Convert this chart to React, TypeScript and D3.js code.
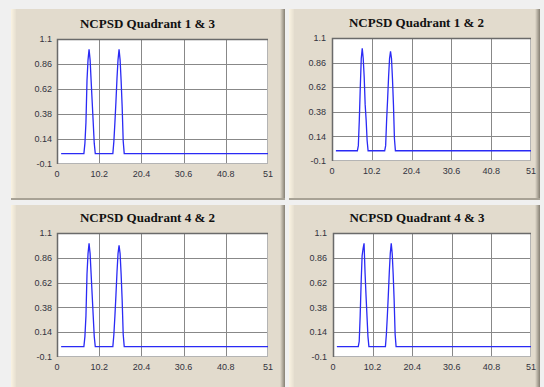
import { useEffect, useRef } from "react"
import * as d3 from "d3"

const titles = ["NCPSD Quadrant 1 & 3", "NCPSD Quadrant 1 & 2", "NCPSD Quadrant 4 & 2", "NCPSD Quadrant 4 & 3"]
const xTicks = [0, 10.2, 20.4, 30.6, 40.8, 51]
const yTicks = [-0.1, 0.14, 0.38, 0.62, 0.86, 1.1]

// frequency samples (baseline points only at the ends, peaks sampled finely)
const freq = [1, 6.5, 6.75, 7, 7.25, 7.5, 7.75, 8, 8.25, 8.5, 8.75, 9, 9.25, 13.5, 13.75, 14, 14.25, 14.5, 14.75, 15, 15.25, 15.5, 15.75, 16, 16.25, 51]
const q13 = [0, 0, 0.1, 0.3, 0.7, 0.9, 1.0, 0.9, 0.7, 0.5, 0.3, 0.1, 0, 0, 0.12, 0.3, 0.5, 0.72, 0.9, 1.0, 0.9, 0.7, 0.45, 0.12, 0, 0]
const q12 = [0, 0, 0.05, 0.3, 0.62, 0.9, 1.0, 0.9, 0.72, 0.45, 0.3, 0.1, 0, 0, 0.05, 0.3, 0.5, 0.72, 0.9, 0.97, 0.9, 0.7, 0.45, 0.12, 0, 0]
const q42 = [0, 0, 0.1, 0.3, 0.7, 0.9, 1.0, 0.9, 0.7, 0.5, 0.3, 0.1, 0, 0, 0.12, 0.3, 0.5, 0.72, 0.9, 0.98, 0.9, 0.7, 0.45, 0.12, 0, 0]
const q43 = [0, 0, 0.05, 0.3, 0.62, 0.88, 0.95, 1.0, 0.72, 0.5, 0.3, 0.1, 0, 0, 0.12, 0.3, 0.5, 0.72, 0.9, 1.0, 0.9, 0.7, 0.45, 0.12, 0, 0]

const panels = [
  { title: titles[0], values: q13, box: [11, 9, 285, 200], plot: [57, 39, 268, 164], gap: 5 },
  { title: titles[1], values: q12, box: [289, 9, 540, 200], plot: [332, 38, 531, 161], gap: 6 },
  { title: titles[2], values: q42, box: [11, 205, 285, 392], plot: [57, 233, 268, 357], gap: 5 },
  { title: titles[3], values: q43, box: [289, 205, 540, 392], plot: [333, 233, 531, 357], gap: 6 },
]

export default function App() {
  const svgRef = useRef<SVGSVGElement>(null)

  useEffect(() => {
    if (!svgRef.current) return
    const width = 544
    const height = 387
    const svg = d3.select(svgRef.current).attr("width", width).attr("height", height)
    svg.selectAll("*").remove()

    svg.append("rect").attr("width", width).attr("height", height).attr("fill", "#f0f0f0")

    const defs = svg.append("defs")
    const sh = defs.append("linearGradient").attr("id", "shadowR")
    sh.append("stop").attr("offset", "0%").attr("stop-color", "#e2dbcd")
    sh.append("stop").attr("offset", "100%").attr("stop-color", "#857f73")
    const hi = defs.append("linearGradient").attr("id", "hiL")
    hi.append("stop").attr("offset", "0%").attr("stop-color", "#faf3e2")
    hi.append("stop").attr("offset", "100%").attr("stop-color", "#e6dfd0")

    panels.forEach((p) => {
      const [bx0, by0, bx1, by1] = p.box
      const [px0, py0, px1, py1] = p.plot
      const g = svg.append("g")

      g.append("rect").attr("x", bx0).attr("y", by0).attr("width", bx1 - bx0).attr("height", by1 - by0).attr("fill", "#e2dbcd")
      g.append("rect").attr("x", bx0).attr("y", by0).attr("width", 5).attr("height", by1 - by0).attr("fill", "url(#hiL)")
      g.append("rect").attr("x", bx1 - 5).attr("y", by0).attr("width", 5).attr("height", by1 - by0).attr("fill", "url(#shadowR)")
      g.append("rect").attr("x", bx0).attr("y", by1 - 2).attr("width", bx1 - bx0).attr("height", 2).attr("fill", "#a8a295")

      g.append("text")
        .attr("x", (px0 + px1) / 2 - 15)
        .attr("y", py0 - 11)
        .attr("text-anchor", "middle")
        .attr("font-family", "Liberation Serif, Times New Roman, serif")
        .attr("font-weight", "bold")
        .attr("font-size", "13px")
        .attr("fill", "#111")
        .text(p.title)

      const x = d3.scaleLinear().domain([0, 51]).range([px0, px1])
      const y = d3.scaleLinear().domain([-0.1, 1.1]).range([py1, py0])

      g.append("rect").attr("x", px0).attr("y", py0).attr("width", px1 - px0).attr("height", py1 - py0).attr("fill", "#ffffff")

      g.selectAll(".gx")
        .data(xTicks.slice(1, -1))
        .enter()
        .append("line")
        .attr("x1", (d) => Math.round(x(d)) + 0.5)
        .attr("x2", (d) => Math.round(x(d)) + 0.5)
        .attr("y1", py0)
        .attr("y2", py1)
        .attr("stroke", "#888888")

      g.selectAll(".gy")
        .data(yTicks.slice(1, -1))
        .enter()
        .append("line")
        .attr("x1", px0)
        .attr("x2", px1)
        .attr("y1", (d) => Math.round(y(d)) + 0.5)
        .attr("y2", (d) => Math.round(y(d)) + 0.5)
        .attr("stroke", "#888888")

      g.append("rect")
        .attr("x", px0 + 0.5)
        .attr("y", py0 + 0.5)
        .attr("width", px1 - px0 - 1)
        .attr("height", py1 - py0 - 1)
        .attr("fill", "none")
        .attr("stroke", "#b4b4b4")
      g.append("path")
        .attr("d", `M${px0 + 0.5},${py1}V${py0 + 0.5}H${px1}`)
        .attr("fill", "none")
        .attr("stroke", "#6a6a6a")
        .attr("stroke-width", 1.5)

      const line = d3
        .line<number>()
        .x((d, i) => x(freq[i]))
        .y((d) => y(d))
      g.append("path")
        .attr("d", line(p.values))
        .attr("fill", "none")
        .attr("stroke", "#2a2af5")
        .attr("stroke-width", 1.3)

      g.selectAll(".yl")
        .data(yTicks)
        .enter()
        .append("text")
        .attr("x", px0 - p.gap)
        .attr("y", (d) => y(d))
        .attr("dy", "0.35em")
        .attr("text-anchor", "end")
        .attr("font-family", "Liberation Sans, Arial, sans-serif")
        .attr("font-size", "9px")
        .attr("fill", "#333340")
        .text((d) => String(d))

      g.selectAll(".xl")
        .data(xTicks)
        .enter()
        .append("text")
        .attr("x", (d) => x(d))
        .attr("y", py1 + 13)
        .attr("text-anchor", "middle")
        .attr("font-family", "Liberation Sans, Arial, sans-serif")
        .attr("font-size", "9px")
        .attr("fill", "#333340")
        .text((d) => String(d))
    })
  }, [])

  return <svg ref={svgRef} style={{ position: "absolute", left: 0, top: 0 }} />
}
